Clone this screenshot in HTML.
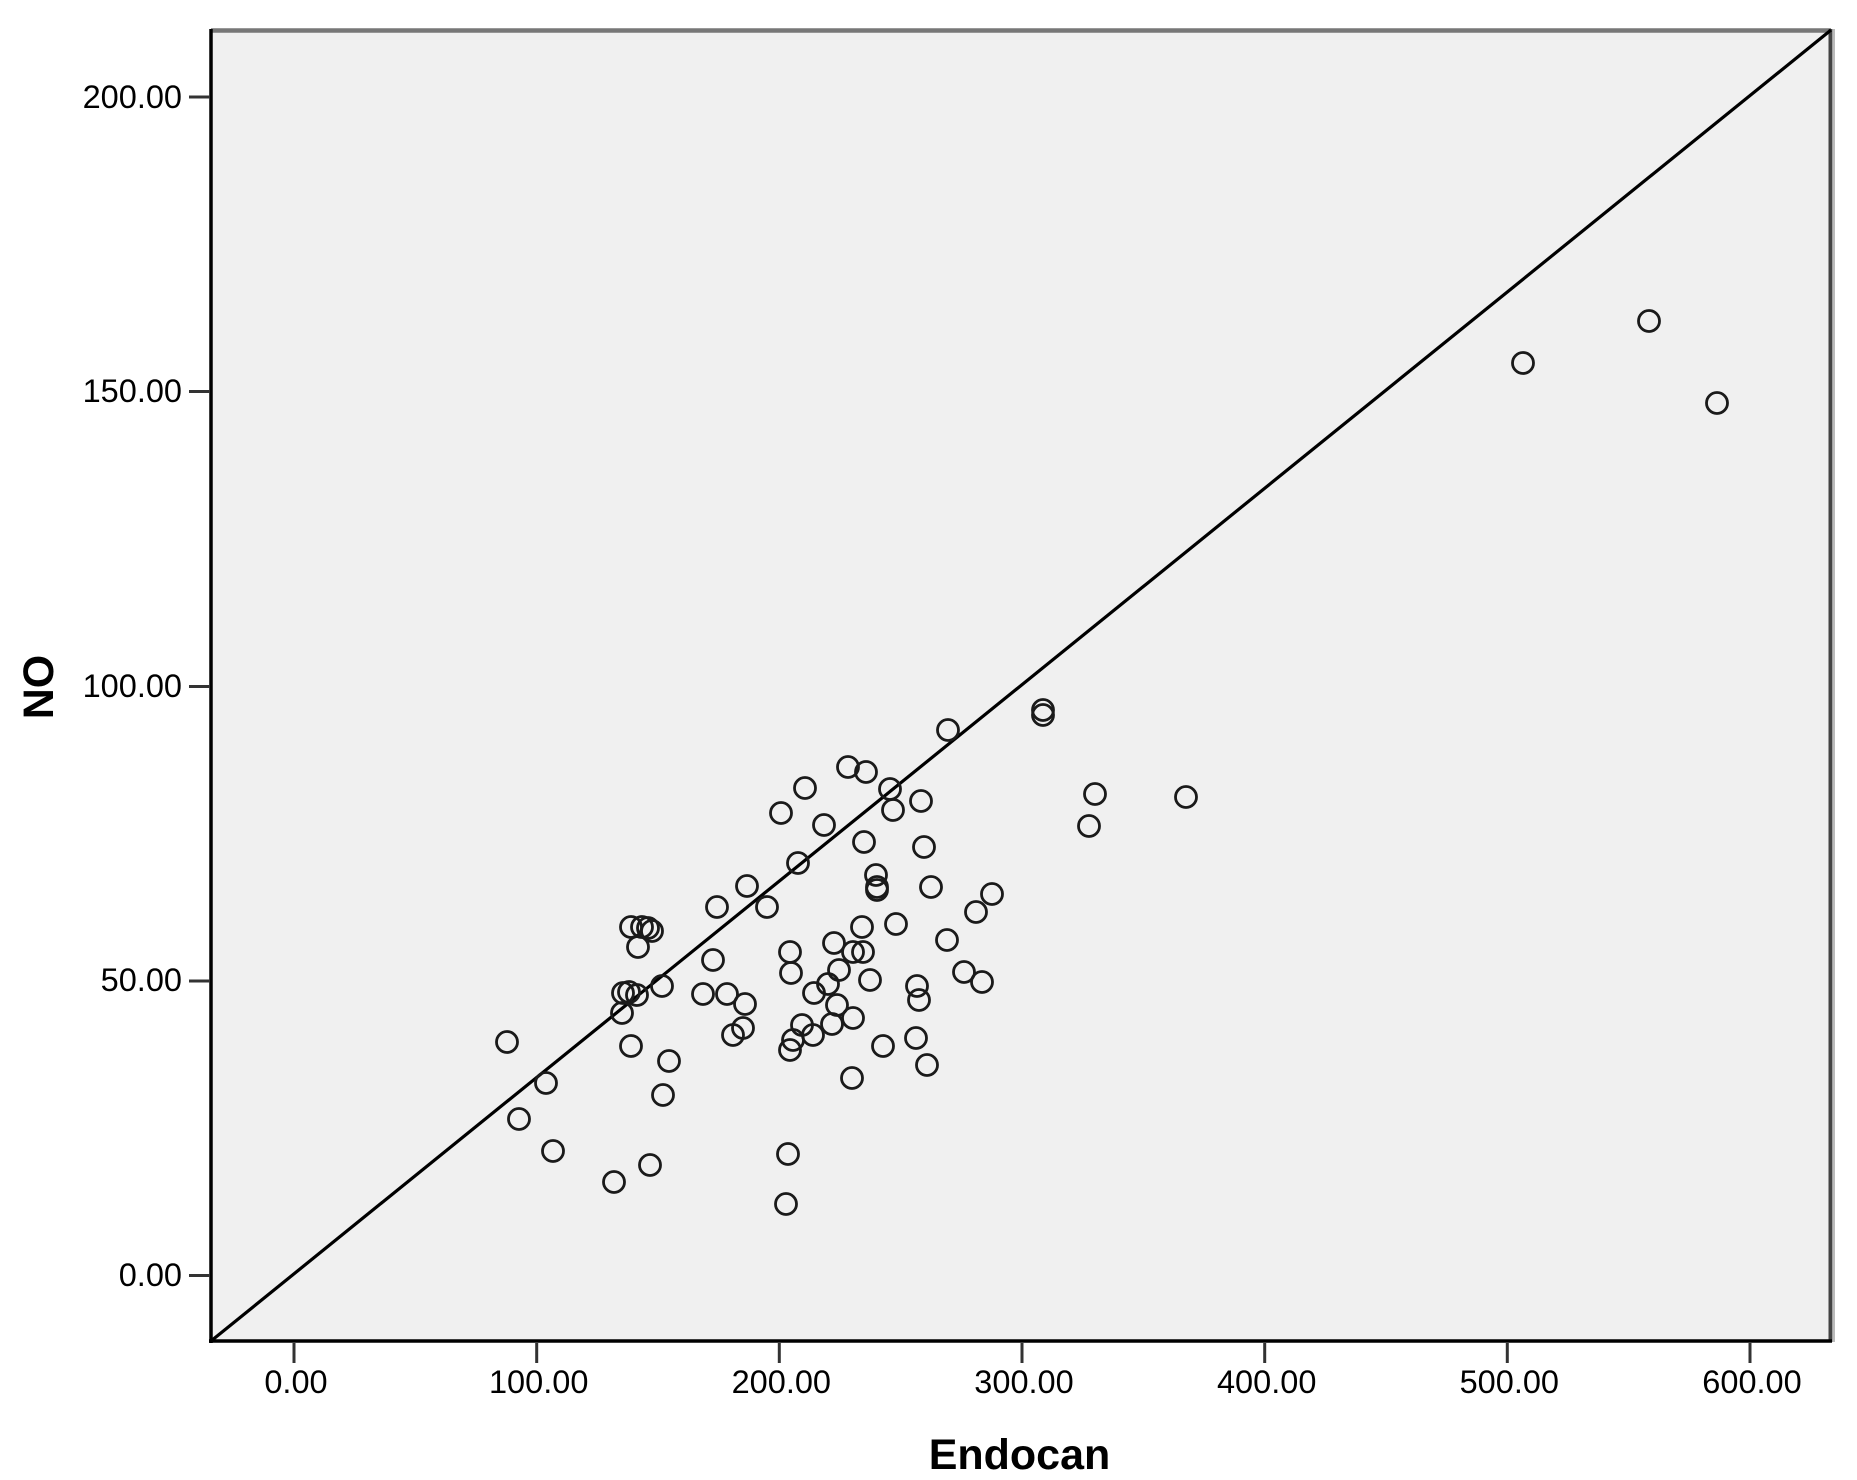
<!DOCTYPE html>
<html>
<head>
<meta charset="utf-8">
<style>
html,body{margin:0;padding:0;background:#fff;}
svg{display:block;}
.tl{font-family:"Liberation Sans",Arial,sans-serif;font-size:32.5px;fill:#000;}
.ax{font-family:"Liberation Sans",Arial,sans-serif;font-size:43px;font-weight:bold;fill:#000;}
</style>
</head>
<body>
<svg width="1857" height="1480" viewBox="0 0 1857 1480" xmlns="http://www.w3.org/2000/svg">
<defs>
<marker id="c" markerWidth="30" markerHeight="30" refX="15" refY="15" markerUnits="userSpaceOnUse" overflow="visible">
<circle cx="15" cy="15" r="10.5" fill="none" stroke="#1a1a1a" stroke-width="2.8"/>
</marker>
</defs>
<rect x="0" y="0" width="1857" height="1480" fill="#ffffff"/>
<rect x="211" y="31" width="1619" height="1310" fill="#f0f0f0"/>
<line x1="211" y1="30.5" x2="1831" y2="30.5" stroke="#777" stroke-width="4.5"/>
<line x1="1830.5" y1="29" x2="1830.5" y2="1342" stroke="#444" stroke-width="4"/>
<line x1="1834" y1="29" x2="1834" y2="1342" stroke="#bbb" stroke-width="2"/>
<line x1="211" y1="29" x2="211" y2="1343" stroke="#000" stroke-width="3.5"/>
<line x1="209" y1="1341" x2="1832" y2="1341" stroke="#000" stroke-width="3.5"/>
<path d="M189 97H210M189 391.5H210M189 686.5H210M189 981H210M189 1275.5H210M294 1343V1363M536.7 1343V1363M779.3 1343V1363M1022 1343V1363M1264.7 1343V1363M1507.3 1343V1363M1750 1343V1363" stroke="#333" stroke-width="3" fill="none"/>
<g class="tl" text-anchor="end">
<text x="182" y="108">200.00</text>
<text x="182" y="402">150.00</text>
<text x="182" y="697">100.00</text>
<text x="182" y="991">50.00</text>
<text x="182" y="1286">0.00</text>
</g>
<g class="tl" text-anchor="middle">
<text x="296" y="1393">0.00</text>
<text x="538.7" y="1393">100.00</text>
<text x="781.3" y="1393">200.00</text>
<text x="1024" y="1393">300.00</text>
<text x="1266.7" y="1393">400.00</text>
<text x="1509.3" y="1393">500.00</text>
<text x="1752" y="1393">600.00</text>
</g>
<text class="ax" x="1019.5" y="1469" text-anchor="middle">Endocan</text>
<text class="ax" transform="translate(53,687) rotate(-90)" text-anchor="middle">NO</text>
<line x1="211" y1="1341" x2="1831" y2="30" stroke="#000" stroke-width="3.2"/>
<polyline fill="none" stroke="none" marker-start="url(#c)" marker-mid="url(#c)" marker-end="url(#c)" points="507,1042 546,1083 519,1119 553,1151 614,1182 650,1165 631,1046 669,1061 663,1095 662,986 623,993 629,992 637,995 622,1013 631,927 642,927 648,928 652,931 638,947 717,907 747,886 767,907 713,960 703,994 727,994 745,1004 733,1035 743,1028 790,952 791,973 793,1040 790,1050 788,1154 786,1204 848,767 866,772 805,788 781,813 824,825 890,789 893,810 921,801 864,842 924,847 798,863 876,875 877,887 877,890 931,887 992,894 976,912 862,927 896,924 947,940 834,943 853,952 863,952 839,970 870,980 964,972 982,982 917,986 919,1000 828,984 814,993 837,1005 853,1018 832,1024 802,1025 813,1035 883,1046 916,1038 927,1065 852,1078 948,730 1043,710 1043,715 1095,794 1089,826 1186,797 1523,363 1649,321 1717,403"/>
</svg>
</body>
</html>
